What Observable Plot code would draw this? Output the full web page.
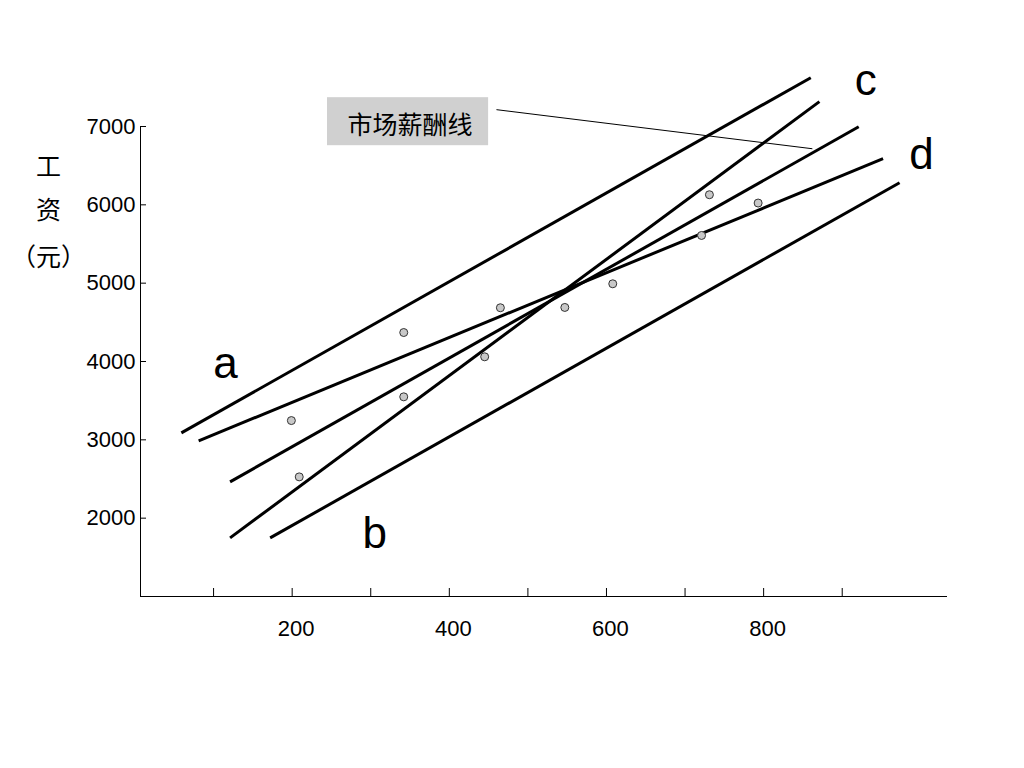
<!DOCTYPE html>
<html>
<head>
<meta charset="utf-8">
<script src="https://cdn.jsdelivr.net/npm/d3@7"></script>
<script src="https://cdn.jsdelivr.net/npm/@observablehq/plot@0.6"></script>
<style>
  html, body { margin: 0; padding: 0; background: #fff; }
  #chart svg { display: block; }
</style>
</head>
<body>
<div id="chart"></div>
<script>
// ---- data ----
const xTicks = [100, 200, 300, 400, 500, 600, 700, 800, 900];
const xTickLabels = [200, 400, 600, 800];
const yTicks = [2000, 3000, 4000, 5000, 6000, 7000];

// scatter points
const pointX = [199, 209, 342, 342, 445, 465, 547, 608, 721, 731, 793];
const pointY = [3246, 2527, 4370, 3549, 4060, 4686, 4690, 4992, 5609, 6129, 6023];

// straight lines: start / end
const lineNames = ["a", "steep", "middle", "flat", "bottom"];
const lineX1 = [59, 121, 121, 81, 172];
const lineY1 = [3089, 1748, 2464, 2987, 1748];
const lineX2 = [860, 871, 921, 952, 973];
const lineY2 = [7623, 7317, 6997, 6589, 6282];

// line letters
const letterText = ["a", "b", "c", "d"];
const letterX = [115, 305, 930, 1001];
const letterY = [3971, 1800, 7585, 6640];

// y-axis title (stacked vertically)
const yTitleText = ["工", "资", "（元）"];
const yTitleX = [-110, -110, -110];
const yTitleY = [6474, 5925, 5324];

// annotation "市场薪酬线"
const noteText = ["市场薪酬线"];
const noteBoxX1 = [245], noteBoxX2 = [450], noteBoxY1 = [6755], noteBoxY2 = [7368];
const noteTextX = [350], noteTextY = [7010];
const noteLeadX1 = [460], noteLeadY1 = [7215], noteLeadX2 = [862], noteLeadY2 = [6716];

// ---- build tables ----
const points = pointX.map((x, i) => ({x, y: pointY[i]}));
const lines = lineNames.map((n, i) => ({n, x1: lineX1[i], y1: lineY1[i], x2: lineX2[i], y2: lineY2[i]}));
const letters = letterText.map((t, i) => ({t, x: letterX[i], y: letterY[i]}));
const yTitle = yTitleText.map((t, i) => ({t, x: yTitleX[i], y: yTitleY[i]}));
const noteBox = [{x1: noteBoxX1[0], x2: noteBoxX2[0], y1: noteBoxY1[0], y2: noteBoxY2[0]}];
const note = [{t: noteText[0], x: noteTextX[0], y: noteTextY[0]}];
const lead = [{x1: noteLeadX1[0], y1: noteLeadY1[0], x2: noteLeadX2[0], y2: noteLeadY2[0]}];

const latin = "'Liberation Sans', Arial, sans-serif";
const cjk = "'Noto Sans CJK SC', sans-serif";

const chart = Plot.plot({
  width: 1024,
  height: 768,
  marginLeft: 140,
  marginRight: 77,
  marginTop: 126,
  marginBottom: 172,
  x: {domain: [7, 1034]},
  y: {domain: [1000, 7000]},
  style: {fontFamily: latin, color: "#000", background: "#fff", overflow: "visible"},
  marks: [
    // axis lines
    Plot.ruleY([1000], {stroke: "#000", strokeWidth: 1}),
    Plot.ruleX([7], {y1: 1000, y2: 7000, stroke: "#000", strokeWidth: 1}),
    // inward ticks
    Plot.axisX({ticks: xTicks, tickSize: -8, tickFormat: () => "", stroke: "#000"}),
    Plot.axisY({ticks: yTicks, tickSize: -6, tickFormat: () => "", stroke: "#000"}),
    // tick labels
    Plot.axisX({ticks: xTickLabels, tickSize: 0, tickPadding: 24, dx: 4, tickFormat: d => String(d), fontSize: 22, fill: "#000"}),
    Plot.axisY({ticks: yTicks, tickSize: 0, tickPadding: 5, tickFormat: d => String(d), fontSize: 22, fill: "#000"}),
    // lines
    Plot.link(lines, {x1: "x1", y1: "y1", x2: "x2", y2: "y2", stroke: "#000", strokeWidth: 3}),
    // annotation
    Plot.rect(noteBox, {x1: "x1", x2: "x2", y1: "y1", y2: "y2", fill: "#d0d0d0"}),
    Plot.text(note, {x: "x", y: "y", text: "t", fontFamily: cjk, fontSize: 25, fill: "#000"}),
    Plot.link(lead, {x1: "x1", y1: "y1", x2: "x2", y2: "y2", stroke: "#000", strokeWidth: 1}),
    // points
    Plot.dot(points, {x: "x", y: "y", r: 4, fill: "#c8c8c8", stroke: "#333", strokeWidth: 1}),
    // letters
    Plot.text(letters, {x: "x", y: "y", text: "t", fontSize: 44, fill: "#000"}),
    // y title
    Plot.text(yTitle, {x: "x", y: "y", text: "t", fontFamily: cjk, fontSize: 25, fill: "#000"})
  ]
});
document.getElementById("chart").appendChild(chart);
</script>
</body>
</html>
